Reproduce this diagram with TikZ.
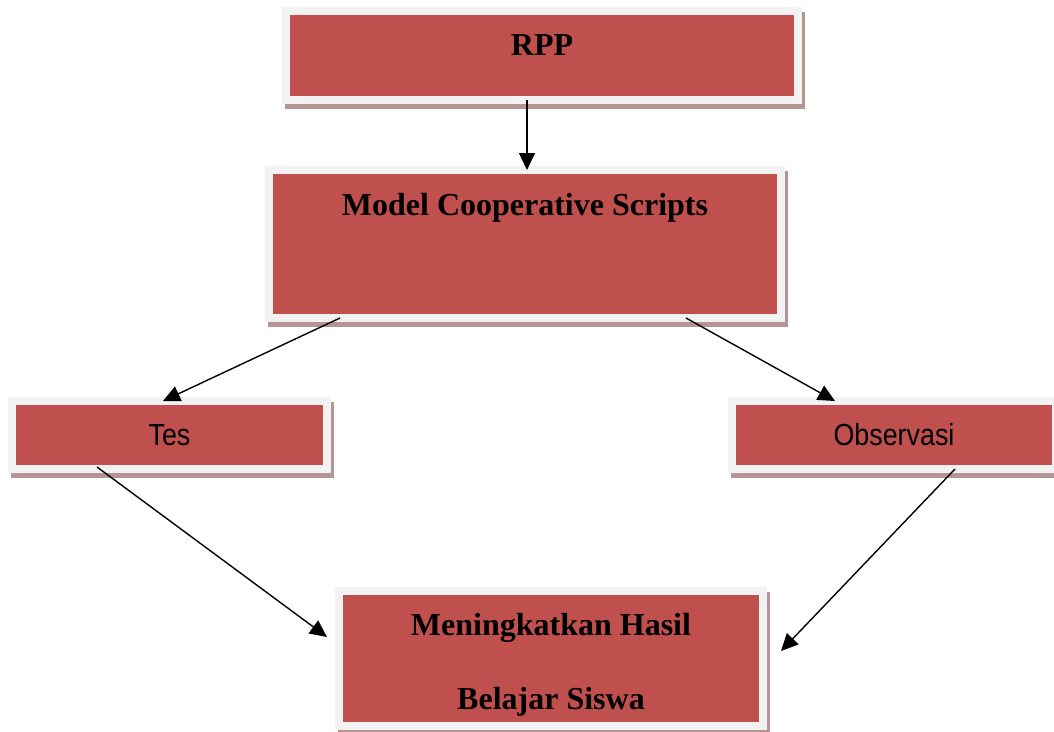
\documentclass[tikz,border=0pt]{standalone}
\usepackage{fontspec}
\usepackage{graphicx}
\setmainfont{Liberation Serif}
\newfontfamily\boxsans{Liberation Sans}
\usetikzlibrary{arrows.meta,shadows,calc}
\definecolor{boxred}{RGB}{192,80,77}
\definecolor{framegray}{RGB}{242,242,242}
\definecolor{shadowc}{RGB}{181,148,148}
\tikzset{
  framebox/.style={fill=framegray, inner sep=0pt, outer sep=0pt,
    drop shadow={shadow xshift=3pt, shadow yshift=-5pt, fill=shadowc, opacity=1},
    path picture={\fill[boxred] ([shift={(8pt,-8pt)}]path picture bounding box.north west)
       rectangle ([shift={(-8pt,8pt)}]path picture bounding box.south east);}},
  titlefont/.style={font=\bfseries\fontsize{32}{38}\selectfont},
  sansfont/.style={font=\boxsans\fontsize{30.5}{36}\selectfont},
  conn/.style={line width=1.4pt, -{Triangle[length=17pt,width=16pt]}}
}
\begin{document}
\begin{tikzpicture}[x=1pt,y=-1pt]
\useasboundingbox (0,0) rectangle (1054,731);
\node[framebox, titlefont, minimum width=520pt, text height=48pt, text depth=49pt] (rpp) at (542,55.5) {RPP};
\node[framebox, titlefont, minimum width=520pt, text height=49pt, text depth=107pt] (model) at (525,244) {Model Cooperative Scripts};
\node[framebox, sansfont, minimum width=323pt, minimum height=76pt] (tes) at (169.5,435) {\scalebox{0.88}[1]{Tes}};
\node[framebox, sansfont, minimum width=332pt, minimum height=76pt] (obs) at (894,435) {\scalebox{0.88}[1]{Observasi}};
\node[framebox, titlefont, font=\bfseries\fontsize{32}{74}\selectfont, align=center, minimum width=432pt, text height=122pt, text depth=21pt] (goal) at (551,658.5) {Meningkatkan Hasil\\Belajar Siswa};
\draw[conn] ($(rpp.south)+(-15,-4)$) -- ($(model.north)+(2,4)$);
\draw[conn] ($(model.south)+(-185,-4)$) -- ($(tes.north)+(-6.5,4)$);
\draw[conn] ($(model.south)+(161,-4)$) -- ($(obs.north)+(-59,4)$);
\draw[conn] ($(tes.south)+(-72.5,-6)$) -- ($(goal.west)+(-8,-21.5)$);
\draw[conn] ($(obs.south)+(61,-4)$) -- ($(goal.east)+(14,-7.5)$);
\end{tikzpicture}
\end{document}
